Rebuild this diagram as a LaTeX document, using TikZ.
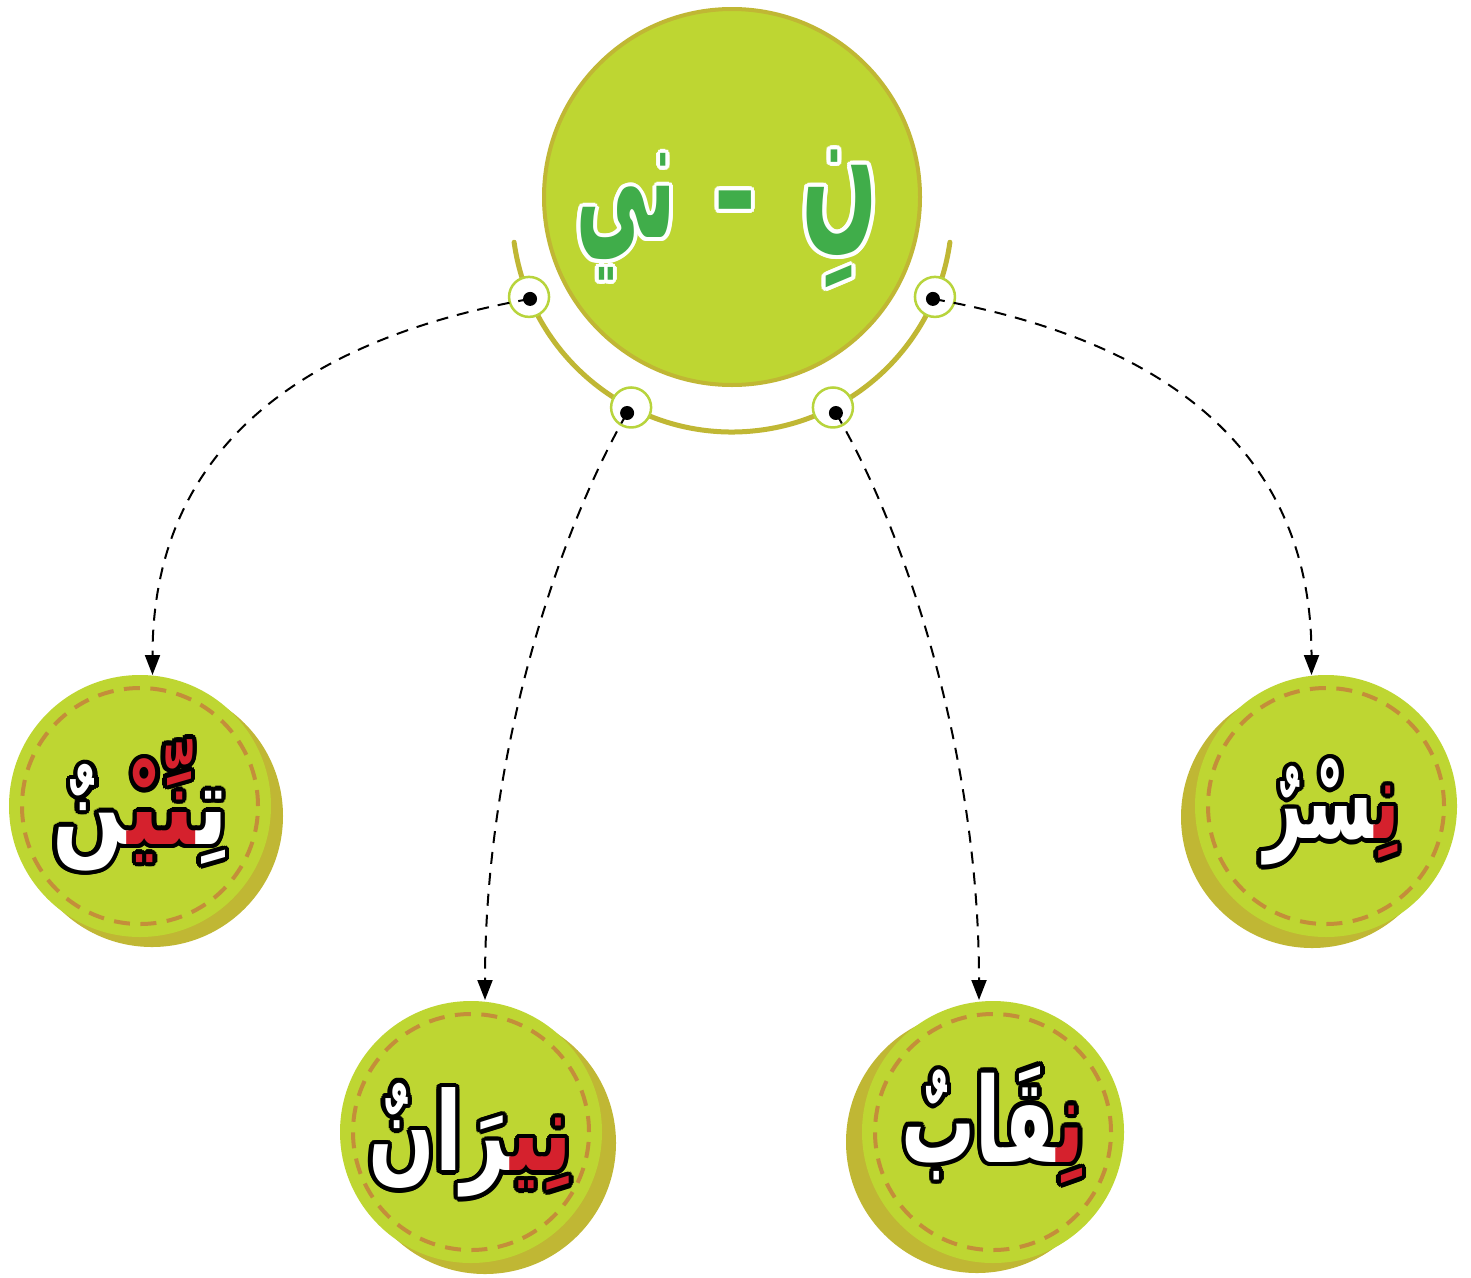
\documentclass[tikz,border=0pt]{standalone}
\usepackage{graphicx}
\usepackage{fontspec}
\newfontfamily\arabicfont[Script=Arabic]{DejaVu Sans Bold}
\usetikzlibrary{arrows.meta,calc}
\definecolor{leaf}{RGB}{190,214,50}
\definecolor{olive}{RGB}{192,183,52}
\definecolor{stitch}{RGB}{196,142,58}
\definecolor{lettergreen}{RGB}{64,173,74}
\definecolor{letterred}{RGB}{213,33,45}
\definecolor{ringgreen}{RGB}{184,212,60}
\newcommand\zj{\char"200D\relax}
% segments are written in visual order, left to right; each segment is shaped right to left
\newcommand\wTinnin[2]{\scalebox{1.0}[1.3]{\textcolor{#1}{\zj نٌ}\textcolor{#2}{\zj نِّيْ\zj}\textcolor{#1}{تِ\zj}}}
\newcommand\wNisr[2]{\scalebox{0.8}[1.3]{\textcolor{#1}{\zj سْرٌ}\textcolor{#2}{نِ\zj}}}
\newcommand\wNiran[2]{\scalebox{0.93}[1.3]{\textcolor{#1}{\zj رَانٌ}\textcolor{#2}{نِي\zj}}}
\newcommand\wNiqab[2]{\scalebox{0.88}[1.4]{\textcolor{#1}{\zj قَابٌ}\textcolor{#2}{نِ\zj}}}
\newcommand\rootL[1]{\scalebox{0.72}[1.75]{\textcolor{#1}{ني}}}
\newcommand\rootM[1]{\scalebox{1.05}[1.3]{\textcolor{#1}{-}}}
\newcommand\rootR[1]{\scalebox{0.9}[1.7]{\textcolor{#1}{نِ}}}
\newcommand\smallfont{\arabicfont\fontsize{84}{90}\selectfont}
\newcommand\bigfont{\arabicfont\fontsize{100}{110}\selectfont}
\newcommand\owords[6]{%
  \foreach \a [count=\i] in {0,22.5,...,337.5}
    \node[wordtext, font=#3] (#1o\i) at ($(#2)+(\a:#6)$) {#4};
  \node[wordtext, font=#3] (#1) at (#2) {#5};
}
\begin{document}
\begin{tikzpicture}[x=1pt,y=1pt,
  wordtext/.style={inner sep=0pt, anchor=center},
  bigc/.style={circle, fill=leaf, draw=olive, line width=4pt, minimum size=376pt, inner sep=0pt},
  coinshadow/.style={circle, fill=olive, minimum size=262pt, inner sep=0pt},
  coinfront/.style={circle, fill=leaf, minimum size=262pt, inner sep=0pt},
  stitchring/.style={circle, draw=stitch, line width=4pt, dash pattern=on 16pt off 10.5pt, minimum size=236pt, inner sep=0pt},
  ringc/.style={circle, fill=white, draw=ringgreen, line width=2.5pt, minimum size=40pt, inner sep=0pt},
  dotb/.style={circle, fill=black, minimum size=14pt, inner sep=0pt},
  conn/.style={draw=black, line width=2pt, dash pattern=on 12pt off 9pt, -{Triangle[length=20pt,width=15pt]}},
  hubarc/.style={draw=olive, line width=5pt, line cap=round}
]
\useasboundingbox (0,0) rectangle (1471,-1277);
\fill[white] (0,0) rectangle (1471,-1277);

% top circle and arc
\coordinate (hub) at (732,-212);
\node[bigc] (top) at (732,-197) {};
\draw[hubarc] ($(hub)+(187.9:220)$) arc[start angle=187.9, end angle=352.1, radius=220];
\owords{rootL}{626,-217}{\bigfont}{\rootL{white}}{\rootL{lettergreen}}{4}
\owords{rootM}{735,-214}{\bigfont}{\rootM{white}}{\rootM{lettergreen}}{4}
\owords{rootR}{840,-219}{\bigfont}{\rootR{white}}{\rootR{lettergreen}}{4}

% rings on the arc
\node[ringc] (r1) at ($(hub)+(202.7:220)$) {};
\node[ringc] (r2) at ($(hub)+(242.7:220)$) {};
\node[ringc] (r3) at ($(hub)+(297.3:220)$) {};
\node[ringc] (r4) at ($(hub)+(337.3:220)$) {};

% coins
\node[coinshadow] (s1) at (152,-816) {};
\node[coinfront] (f1) at (140,-806) {};
\node[stitchring] (g1) at (140,-806) {};
\node[coinshadow] (s4) at (1312,-817) {};
\node[coinfront] (f4) at (1326,-806) {};
\node[stitchring] (g4) at (1326,-806) {};
\node[coinshadow] (s2) at (485,-1143) {};
\node[coinfront] (f2) at (471,-1132) {};
\node[stitchring] (g2) at (471,-1132) {};
\node[coinshadow] (s3) at (977,-1142) {};
\node[coinfront] (f3) at (993,-1132) {};
\node[stitchring] (g3) at (993,-1132) {};

% arrow targets
\coordinate (t1) at (152.5,-675);
\coordinate (t2) at (485,-1000);
\coordinate (t3) at (979,-1000);
\coordinate (t4) at (1311.5,-675);

% dots
\node[dotb] (k1) at ($(r1)+(1,-2)$) {};
\node[dotb] (k2) at ($(r2)+(-4,-5.5)$) {};
\node[dotb] (k3) at ($(r3)+(3,-5.5)$) {};
\node[dotb] (k4) at ($(r4)+(-2,-2)$) {};

% connectors
\draw[conn] (k1.center) .. controls (300,-340) and (152.5,-450) .. (t1);
\draw[conn] (k2.center) .. controls (560,-530) and (485,-750) .. (t2);
\draw[conn] (k3.center) .. controls (904,-530) and (979,-750) .. (t3);
\draw[conn] (k4.center) .. controls (1164,-340) and (1311.5,-450) .. (t4);

% words
\owords{w1}{140,-805}{\smallfont}{\wTinnin{black}{black}}{\wTinnin{white}{letterred}}{4.5}
\owords{w4}{1332,-812}{\smallfont}{\wNisr{black}{black}}{\wNisr{white}{letterred}}{4.5}
\owords{w2}{470,-1140}{\smallfont}{\wNiran{black}{black}}{\wNiran{white}{letterred}}{4.5}
\owords{w3}{993,-1125}{\smallfont}{\wNiqab{black}{black}}{\wNiqab{white}{letterred}}{4.5}
\end{tikzpicture}
\end{document}
